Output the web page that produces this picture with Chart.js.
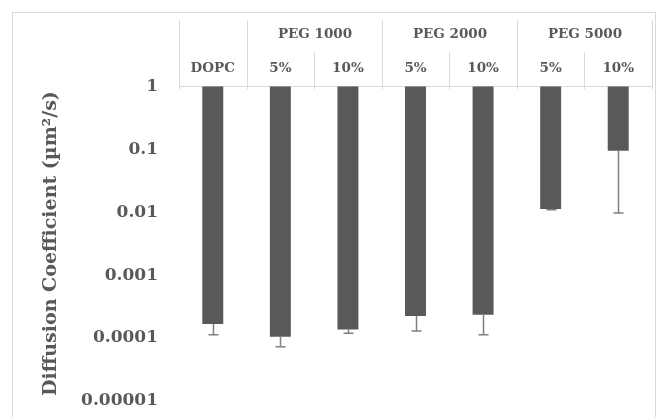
<!DOCTYPE html>
<html>
<head>
<meta charset="utf-8">
<script src="https://cdn.jsdelivr.net/npm/chart.js@4.4.1/dist/chart.umd.min.js"></script>
<style>
  html, body { margin: 0; padding: 0; background: #fff; overflow: hidden; }
  #wrap { width: 659px; height: 417px; }
</style>
</head>
<body>
<div id="wrap"><canvas id="chart" width="659" height="417"></canvas></div>
<script>
// Data
const subLabels = ["DOPC", "5%", "10%", "5%", "10%", "5%", "10%"];
const groupLabels = ["PEG 1000", "PEG 2000", "PEG 5000"];
const groupSpans = [[1, 3], [3, 5], [5, 7]]; // category index ranges [from, to)
const diffusion = [1.67e-4, 1.05e-4, 1.37e-4, 2.23e-4, 2.34e-4, 0.0112, 0.094];
const errors = [5.4e-5, 3.2e-5, 1.8e-5, 9.4e-5, 1.21e-4, 0.00028, 0.0843];
const yTickValues = [1, 0.1, 0.01, 0.001, 0.0001, 0.00001];
const yTickLabels = ["1", "0.1", "0.01", "0.001", "0.0001", "0.00001"];

const textColor = "#595959", lineColor = "#d9d9d9", serif = "'DejaVu Serif', serif";

// outer frame, header separators, group labels
const header = {
  id: "header",
  beforeDraw(chart) {
    const { ctx } = chart;
    ctx.save();
    ctx.strokeStyle = lineColor;
    ctx.lineWidth = 1;
    ctx.strokeRect(12.5, 12.5, 643, 430);
    ctx.restore();
  },
  afterDraw(chart) {
    const { ctx, chartArea } = chart;
    const x = chart.scales.x;
    const edge = (i) => Math.round(x.getPixelForValue(i - 0.5)) + 0.5;
    const top = 20, mid = 52, bot = chartArea.top + 3;
    ctx.save();
    ctx.strokeStyle = lineColor;
    ctx.lineWidth = 1;
    ctx.beginPath();
    for (let i = 0; i <= subLabels.length; i++) {
      ctx.moveTo(edge(i), mid); ctx.lineTo(edge(i), bot);
    }
    [0, 1, 3, 5, 7].forEach((i) => { ctx.moveTo(edge(i), top); ctx.lineTo(edge(i), mid); });
    ctx.stroke();
    ctx.fillStyle = textColor;
    ctx.font = "bold 13.5px " + serif;
    ctx.textAlign = "center";
    ctx.textBaseline = "middle";
    groupLabels.forEach((g, k) => {
      const [a, b] = groupSpans[k];
      ctx.fillText(g, (edge(a) + edge(b)) / 2, 34);
    });
    ctx.restore();
  },
};

// minus-only error bars
const errorBars = {
  id: "errorBars",
  afterDatasetsDraw(chart) {
    const { ctx } = chart;
    const x = chart.scales.x, y = chart.scales.y;
    ctx.save();
    ctx.strokeStyle = "#7f7f7f";
    ctx.lineWidth = 1.5;
    diffusion.forEach((v, i) => {
      const px = Math.round(x.getPixelForValue(i)) + 0.5;
      const y0 = y.getPixelForValue(v);
      const y1 = y.getPixelForValue(v - errors[i]);
      ctx.beginPath();
      ctx.moveTo(px, y0); ctx.lineTo(px, y1);
      ctx.moveTo(px - 5, y1); ctx.lineTo(px + 5, y1);
      ctx.stroke();
    });
    ctx.restore();
  },
};

new Chart(document.getElementById("chart"), {
  type: "bar",
  data: {
    labels: subLabels,
    datasets: [{
      data: diffusion,
      base: 1,
      backgroundColor: "#595959",
      borderWidth: 0,
      barPercentage: 1,
      categoryPercentage: 0.31,
    }],
  },
  options: {
    responsive: false,
    animation: false,
    layout: { autoPadding: false, padding: { top: 50, left: 38, right: 7, bottom: 16 } },
    plugins: { legend: { display: false }, tooltip: { enabled: false } },
    scales: {
      x: {
        position: "top",
        grid: { display: false, drawTicks: false },
        border: { display: true, color: lineColor, width: 1 },
        ticks: { color: textColor, font: { family: serif, size: 13.5, weight: "bold" }, padding: 10, maxRotation: 0 },
        afterFit: (s) => { s.paddingLeft = 0; s.paddingRight = 0; },
      },
      y: {
        type: "logarithmic",
        min: 0.00001,
        max: 1,
        grid: { display: false, drawTicks: false },
        border: { display: false },
        afterBuildTicks: (s) => { s.ticks = yTickValues.map((v) => ({ value: v })); },
        afterFit: (s) => { s.width = 141; s.paddingTop = 0; s.paddingBottom = 0; },
        ticks: {
          color: textColor,
          font: { family: serif, size: 17, weight: "bold" },
          padding: 21,
          callback: (v) => yTickLabels[yTickValues.indexOf(v)] ?? "",
        },
        title: {
          display: true,
          text: "Diffusion Coefficient (µm²/s)",
          color: textColor,
          font: { family: serif, size: 19, weight: "bold" },
          padding: { top: 2, bottom: 0 },
        },
      },
    },
  },
  plugins: [header, errorBars],
});
</script>
</body>
</html>
